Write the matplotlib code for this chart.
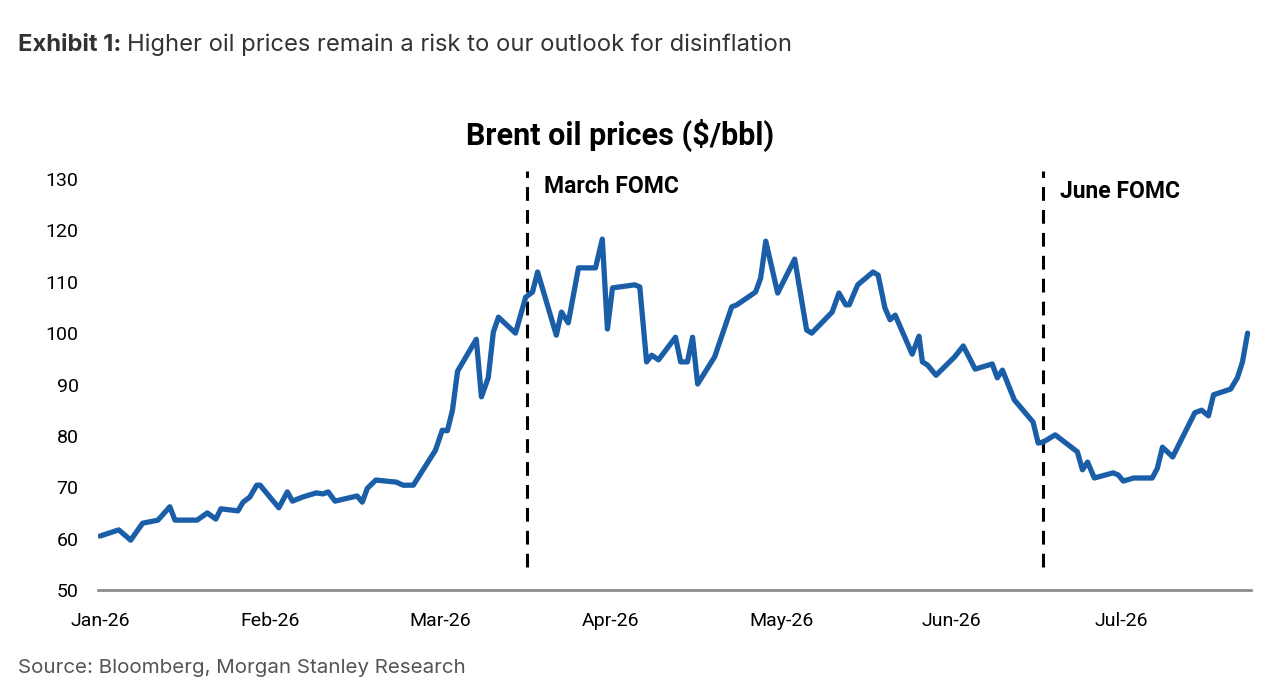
import matplotlib
matplotlib.use("Agg")
import matplotlib.pyplot as plt

# time in months since 1 Jan 2026, Brent price in $/bbl
t_month = [0.00, 0.11, 0.18, 0.25, 0.34, 0.41, 0.44, 0.57, 0.63, 0.68, 0.71,
           0.81, 0.84, 0.88, 0.92, 0.94, 1.05, 1.10, 1.13, 1.19, 1.27, 1.31,
           1.34, 1.38, 1.51, 1.54, 1.57, 1.62, 1.74, 1.78, 1.84, 1.97, 2.01,
           2.04, 2.07, 2.10, 2.21, 2.24, 2.28, 2.31, 2.34, 2.44, 2.50, 2.54,
           2.57, 2.68, 2.71, 2.75, 2.81, 2.91, 2.95, 2.98, 3.01, 3.14, 3.17,
           3.21, 3.24, 3.28, 3.38, 3.41, 3.45, 3.48, 3.51, 3.61, 3.71, 3.74,
           3.85, 3.88, 3.91, 3.98, 4.08, 4.15, 4.18, 4.30, 4.34, 4.38, 4.40,
           4.45, 4.54, 4.57, 4.61, 4.64, 4.67, 4.77, 4.81, 4.83, 4.86, 4.91,
           5.02, 5.07, 5.14, 5.24, 5.27, 5.30, 5.37, 5.48, 5.51, 5.54, 5.61,
           5.74, 5.77, 5.80, 5.84, 5.95, 5.98, 6.01, 6.07, 6.18, 6.21, 6.24,
           6.30, 6.43, 6.47, 6.51, 6.54, 6.64, 6.68, 6.71, 6.74]
brent = [60.5, 61.7, 59.7, 63.0, 63.6, 66.2, 63.6, 63.6, 65.0, 63.8, 65.8,
         65.4, 67.1, 68.1, 70.4, 70.4, 66.0, 69.1, 67.3, 68.1, 68.9, 68.7,
         69.1, 67.3, 68.3, 67.1, 69.8, 71.4, 71.0, 70.4, 70.4, 77.2, 81.1,
         81.0, 85.0, 92.6, 98.8, 87.6, 91.3, 100.2, 103.1, 100.0, 107.0, 108.0,
         111.9, 99.6, 104.1, 102.0, 112.7, 112.7, 118.3, 100.8, 108.8, 109.4, 109.0,
         94.4, 95.7, 94.8, 99.2, 94.4, 94.4, 99.2, 90.1, 95.4, 105.1, 105.5,
         108.0, 110.7, 117.9, 107.8, 114.4, 100.6, 100.0, 104.1, 107.8, 105.5, 105.5,
         109.4, 111.9, 111.3, 104.9, 102.6, 103.5, 95.9, 99.4, 94.4, 93.8, 91.8,
         95.4, 97.5, 93.0, 94.0, 91.3, 92.8, 87.0, 82.7, 78.6, 78.8, 80.2,
         76.9, 73.4, 74.9, 71.8, 72.8, 72.4, 71.2, 71.8, 71.8, 73.7, 77.8,
         75.9, 84.5, 85.0, 83.9, 88.0, 89.1, 91.3, 94.4, 100.0]

month_pos = [0, 1, 2, 3, 4, 5, 6]
month_labels = ['Jan-26', 'Feb-26', 'Mar-26', 'Apr-26', 'May-26', 'Jun-26', 'Jul-26']
fomc_t = [2.51, 5.54]
fomc_labels = ['March FOMC', 'June FOMC']

fig = plt.figure(figsize=(12.8, 6.86), dpi=100)
ax = fig.add_axes([98 / 1280, 1 - 590 / 686, 1153 / 1280, 411 / 686])

ax.plot(t_month, brent, color='#1b5ea8', lw=3.8, solid_joinstyle='round',
        solid_capstyle='round', zorder=3)

for t, lab, ytxt in zip(fomc_t, fomc_labels, [128.6, 127.6]):
    ax.plot([t, t], [54.5, 131.5], color='black', lw=2.2,
            linestyle=(0, (4.5, 3)), clip_on=False, zorder=2)
    ax.text(t + 0.1, ytxt, lab, fontsize=16.5, fontweight='bold',
            family='Roboto', va='center', ha='left', color='black')

ax.set_xlim(-0.012, 6.76)
ax.set_ylim(50, 130)
ax.set_yticks(range(50, 131, 10))
ax.set_xticks(month_pos)
ax.set_xticklabels(month_labels)
for lab in ax.get_xticklabels() + ax.get_yticklabels():
    lab.set_family('Roboto')
    lab.set_fontsize(14)
ax.tick_params(length=0, pad=14)
ax.tick_params(axis='x', pad=16)

for side in ['top', 'right', 'left']:
    ax.spines[side].set_visible(False)
ax.spines['bottom'].set_color('#8c8c8c')
ax.spines['bottom'].set_linewidth(2)

fig.text(620 / 1280, 1 - 135 / 686, 'Brent oil prices ($/bbl)', fontsize=22,
         fontweight='bold', family='Roboto', ha='center', va='center')

renderer = fig.canvas.get_renderer()
head = fig.text(18 / 1280, 1 - 45 / 686, 'Exhibit 1:', fontsize=17.1,
                fontweight='bold', family='Inter', color='#333333', va='center')
x_end = head.get_window_extent(renderer).x1
fig.text((x_end + 6) / 1280, 1 - 45 / 686,
         'Higher oil prices remain a risk to our outlook for disinflation',
         fontsize=17.1, family='Inter', color='#333333', va='center')
fig.text(18 / 1280, 1 - 668 / 686, 'Source: Bloomberg, Morgan Stanley Research',
         fontsize=14.8, family='Inter', color='#555555', va='center')

fig.savefig('out.png', dpi=100)
